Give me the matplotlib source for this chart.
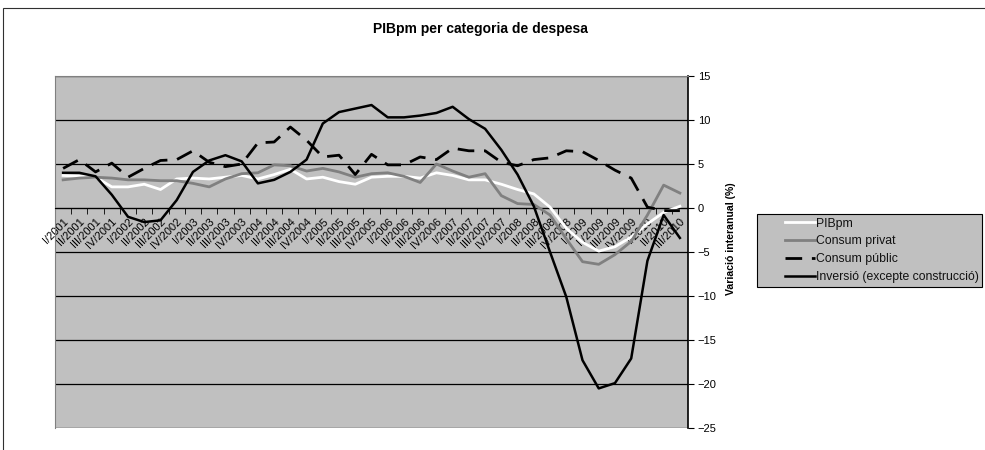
import matplotlib
matplotlib.use("Agg")
import matplotlib.pyplot as plt
import numpy as np
from matplotlib.patches import Rectangle
from matplotlib.legend_handler import HandlerLine2D

plt.rcParams['font.family'] = ['Liberation Sans', 'DejaVu Sans']

# quarters I/2001 .. III/2010
years = list(range(2001, 2011))
quarters = ['I', 'II', 'III', 'IV']
labels = [q + '/' + str(y) for y in years for q in quarters][:39]

pib = [3.7, 3.6, 3.5, 2.4, 2.4, 2.7, 2.1, 3.3, 3.4, 3.3,
       3.5, 3.7, 3.3, 3.8, 4.4, 3.3, 3.5, 3.0, 2.7, 3.5,
       3.6, 3.6, 3.4, 4.0, 3.7, 3.2, 3.2, 2.7, 2.1, 1.6,
       0.1, -2.3, -3.9, -4.9, -4.4, -3.3, -1.8, -0.5, 0.2]
privat = [3.2, 3.4, 3.5, 3.4, 3.2, 3.2, 3.1, 3.1, 2.8, 2.4,
          3.3, 3.9, 4.0, 4.9, 4.8, 4.2, 4.5, 4.1, 3.5, 3.9,
          4.0, 3.6, 2.9, 5.0, 4.2, 3.5, 3.9, 1.4, 0.5, 0.4,
          -0.8, -3.5, -6.1, -6.4, -5.3, -3.8, -0.8, 2.6, 1.7]
public = [4.5, 5.5, 4.1, 5.1, 3.5, 4.5, 5.4, 5.5, 6.5, 5.2,
          4.7, 5.0, 7.4, 7.5, 9.2, 7.7, 5.8, 6.0, 3.8, 6.1,
          4.9, 4.9, 5.8, 5.5, 6.8, 6.5, 6.5, 5.2, 4.8, 5.5,
          5.7, 6.5, 6.4, 5.4, 4.3, 3.4, 0.1, -0.3, -0.3]
inversio = [4.0, 4.0, 3.6, 1.5, -1.0, -1.6, -1.4, 0.9, 4.1, 5.4,
            6.0, 5.3, 2.8, 3.2, 4.1, 5.5, 9.6, 10.9, 11.3, 11.7,
            10.3, 10.3, 10.5, 10.8, 11.5, 10.1, 9.0, 6.6, 3.8, 0.2,
            -5.0, -10.1, -17.3, -20.5, -19.9, -17.1, -6.0, -0.8, -3.4]

x = list(range(len(labels)))

W, H = 985.0, 450.0
PT = 72.0 / 100  # points per pixel


class PaddedLine(HandlerLine2D):
    """legend line that starts some way in from the left edge, like Excel"""
    def __init__(self, pad_px, **kw):
        super().__init__(**kw)
        self.pad = pad_px * PT

    def create_artists(self, legend, orig_handle, xdescent, ydescent, width, height, fontsize, trans):
        arts = super().create_artists(legend, orig_handle, xdescent, ydescent, width, height, fontsize, trans)
        for a in arts:
            xd = np.asarray(a.get_xdata(), dtype=float)
            a.set_xdata(np.linspace(xd[0] + self.pad, xd[-1], len(xd)))
        return arts


fig = plt.figure(figsize=(9.85, 4.5), dpi=100)

# outer chart frame
fig.patches.append(Rectangle((3 / W, -0.01), 1.0, 1 - 8 / H + 0.01, transform=fig.transFigure,
                             fill=False, edgecolor='#303030', lw=0.8))

ax = fig.add_axes([55 / W, 22 / H, 633 / W, 352 / H])
ax.set_facecolor('#C0C0C0')

ax.plot(x, pib, color='white', lw=2, label='PIBpm', zorder=4)
ax.plot(x, privat, color='#808080', lw=2, label='Consum privat', zorder=4)
ax.plot(x, public, color='black', lw=2, dashes=(6, 3.5), label='Consum públic', zorder=4)
ax.plot(x, inversio, color='black', lw=1.8, label='Inversió (excepte construcció)', zorder=4)

ax.set_xlim(-0.5, len(labels) - 0.5)
ax.set_ylim(-25, 15)
ax.set_yticks(range(-25, 20, 5))
ax.yaxis.grid(True, color='black', lw=0.9)
ax.set_axisbelow(True)

ax.yaxis.tick_right()
ax.tick_params(axis='y', direction='out', length=4, labelsize=8, color='black', pad=3)

# category axis crossing at zero
ax.spines['bottom'].set_position(('data', 0))
ax.spines['bottom'].set_color('black')
ax.spines['bottom'].set_zorder(3)
ax.spines['top'].set_color('#808080')
ax.spines['left'].set_color('#808080')
ax.spines['right'].set_color('black')
ax.spines['right'].set_linewidth(1.2)

ax.set_xticks(x)
ax.set_xticklabels(labels, rotation=45, ha='right', rotation_mode='anchor', fontsize=8)
ax.set_xticks([i - 0.5 for i in range(1, len(labels))], minor=True)
ax.tick_params(axis='x', which='major', length=0, pad=6)
ax.tick_params(axis='x', which='minor', direction='out', length=4, color='black')

fig.text(480 / W, 1 - 29 / H, 'PIBpm per categoria de despesa', ha='center', va='center',
         fontsize=10, fontweight='bold')
fig.text(731 / W, 1 - 239 / H, 'Variació interanual (%)', rotation=90, ha='center', va='center',
         fontsize=7.6, fontweight='bold')

lfs = 8.8
hm = {h: PaddedLine(24) for h in ax.get_lines()}
leg = fig.legend(loc='upper left', bbox_to_anchor=(757 / W, 1 - 214 / H), fontsize=lfs,
                 frameon=True, fancybox=False, framealpha=1, edgecolor='black',
                 facecolor='#C0C0C0', handlelength=(54 * PT) / lfs, handletextpad=0.1,
                 labelspacing=0.47, borderpad=0.3, borderaxespad=0, handler_map=hm)
leg.get_frame().set_linewidth(0.8)
for t in leg.get_texts():
    t.set_color('#111111')

fig.savefig('out.png', dpi=100)
